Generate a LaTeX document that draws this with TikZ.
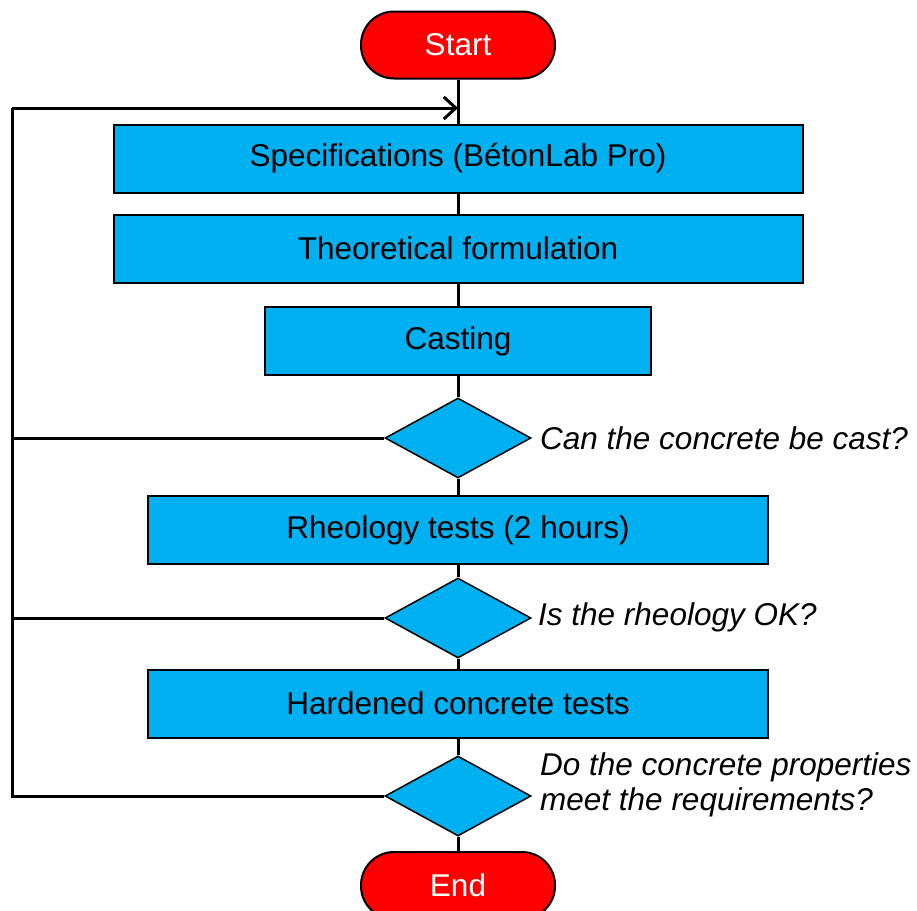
\documentclass[tikz,border=0pt]{standalone}
\usepackage{fontspec}
\setmainfont{Liberation Sans}
\usetikzlibrary{shapes.geometric,arrows.meta}
\definecolor{procblue}{HTML}{00B0F0}
\begin{document}
\begin{tikzpicture}[x=1pt,y=-1pt,
  term/.style={rectangle, rounded corners=33pt, draw, line width=2pt, fill=red, text=white, minimum width=194pt, minimum height=67pt, font=\fontsize{31.5}{36}\selectfont},
  proc/.style={rectangle, draw, line width=2pt, fill=procblue, minimum height=68pt, font=\fontsize{31.5}{36}\selectfont},
  dec/.style={diamond, draw, line width=1.5pt, fill=procblue, minimum width=146pt, minimum height=80pt, inner sep=0pt},
  ques/.style={anchor=west, align=left, inner sep=0pt, font=\fontsize{31.5}{35}\selectfont\itshape},
  link/.style={line width=3pt}]
\useasboundingbox (0,0) rectangle (917,910);
\node[term] (start) at (458,45) {Start};
\node[proc, minimum width=689pt] (spec) at (458,158.5) {Specifications (BétonLab Pro)};
\node[proc, minimum width=689pt] (theo) at (458,248.5) {Theoretical formulation};
\node[proc, minimum width=386pt] (cast) at (458,341) {Casting};
\node[dec] (q1) at (458,438) {};
\node[proc, minimum width=620pt] (rheo) at (458,530) {Rheology tests (2 hours)};
\node[dec] (q2) at (458,618) {};
\node[proc, minimum width=620pt] (hard) at (458,703.5) {Hardened concrete tests};
\node[dec] (q3) at (458,796) {};
\node[term] (end) at (458,885.5) {End};
\node[ques] (t1) at (540,438) {Can the concrete be cast?};
\node[ques] (t2) at (538,617) {Is the rheology OK?};
\node[ques] (t3) at (540,785) {Do the concrete properties\\meet the requirements?};
% main flow
\draw[link] (start) -- (spec) -- (theo) -- (cast) -- (q1) -- (rheo) -- (q2) -- (hard) -- (q3) -- (end);
% back loops
\coordinate (loop) at (12,108);
\coordinate (entry) at (458,108);
\draw[link] (q1.west) -| (loop);
\draw[link] (q2.west) -| (loop);
\draw[link] (q3.west) -| (loop);
\draw[link, -{Straight Barb[length=12pt, width=22pt]}] (loop) -- (entry);
\end{tikzpicture}
\end{document}
